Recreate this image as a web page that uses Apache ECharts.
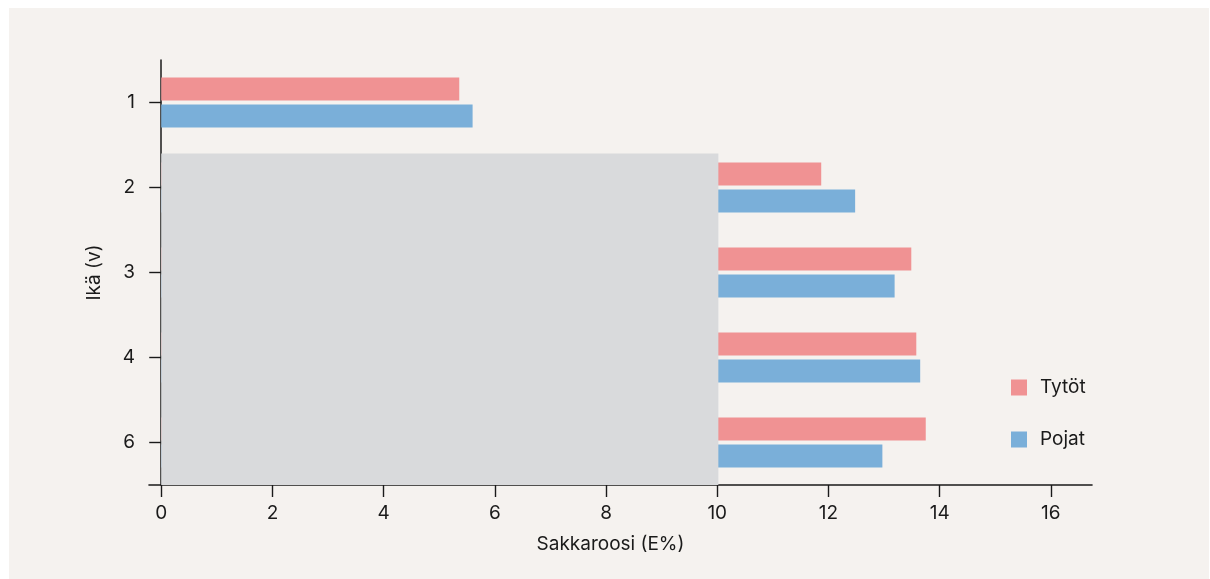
<!DOCTYPE html>
<html>
<head>
<meta charset="utf-8">
<script src="https://cdn.jsdelivr.net/npm/echarts@6/dist/echarts.min.js"></script>
<style>
  html, body { margin: 0; padding: 0; background: #ffffff; }
  #app { position: absolute; left: 9px; top: 8px; width: 1200px; height: 571px; background: #f5f2ef; }
</style>
</head>
<body>
<div id="app"></div>
<script>
// ikäryhmät (v)
var ages = ['1', '2', '3', '4', '6'];
// sakkaroosin osuus energiasta (E%)
var girls = [5.36, 11.87, 13.49, 13.58, 13.75];
var boys = [5.6, 12.48, 13.19, 13.65, 12.97];
var xTicks = [0, 2, 4, 6, 8, 10, 12, 14, 16];
// harmaa alue: x 0..10, ikäryhmät 2..6
var shade = [[0, 10.02, 1, 4]];

var textColor = '#1a1a1a';
var font = 'Inter';

var myChart = echarts.init(document.getElementById('app'));
var option = {
    backgroundColor: '#f5f2ef',
    animation: false,
    textStyle: { fontFamily: font, color: textColor },
    grid: { left: 140, right: 117, top: 52, bottom: 94, containLabel: false },
    legend: {
        data: ['Tytöt', 'Pojat'],
        orient: 'vertical',
        left: 997,
        top: 365,
        itemWidth: 16,
        itemHeight: 16,
        itemGap: 33,
        icon: 'rect',
        textStyle: { fontFamily: font, fontSize: 19, color: textColor, padding: [0, 0, 0, 8] }
    },
    xAxis: {
        type: 'value',
        min: -0.22,
        max: 16.74,
        name: 'Sakkaroosi (E%)',
        nameLocation: 'middle',
        nameGap: 50,
        nameTextStyle: { fontFamily: font, fontSize: 19, color: textColor, padding: [0, 20, 0, 0] },
        splitLine: { show: false },
        axisLine: { show: true, lineStyle: { color: textColor, width: 1.6 } },
        axisTick: { show: true, length: 12, customValues: xTicks, lineStyle: { color: textColor, width: 1.4 } },
        axisLabel: { customValues: xTicks, fontFamily: font, fontSize: 19, color: textColor, margin: 19 }
    },
    yAxis: {
        type: 'category',
        data: ages,
        inverse: true,
        name: 'Ikä (v)',
        nameLocation: 'middle',
        nameGap: 45,
        nameRotate: 90,
        nameTextStyle: { fontFamily: font, fontSize: 19, color: textColor },
        axisLine: { show: true, onZero: true, lineStyle: { color: textColor, width: 1.5 } },
        axisTick: { show: true, alignWithLabel: true, length: 12, lineStyle: { color: textColor, width: 1.4 } },
        axisLabel: { fontFamily: font, fontSize: 19, color: textColor, margin: 14 }
    },
    series: [
        {
            name: 'Tytöt',
            type: 'bar',
            data: girls,
            barWidth: 23,
            barGap: '17%',
            itemStyle: { color: '#f09293' }
        },
        {
            name: 'Pojat',
            type: 'bar',
            data: boys,
            barWidth: 23,
            barGap: '17%',
            itemStyle: { color: '#7aafd9' }
        },
        {
            type: 'custom',
            silent: true,
            z: 5,
            data: shade,
            renderItem: function (params, api) {
                var band = api.size([0, 1])[1];
                var p0 = api.coord([api.value(0), api.value(2)]);
                var p1 = api.coord([api.value(1), api.value(3)]);
                var top = p0[1] - band * 0.4;
                var bottom = p1[1] + band * 0.5;
                return {
                    type: 'rect',
                    shape: { x: p0[0], y: top, width: p1[0] - p0[0], height: bottom - top },
                    style: { fill: '#d9dadc' }
                };
            }
        }
    ]
};
myChart.setOption(option);
</script>
</body>
</html>
